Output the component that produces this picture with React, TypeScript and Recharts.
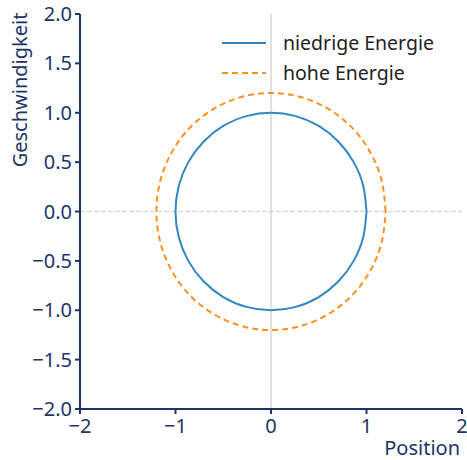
import React from 'react';
import {
    LineChart,
    Line,
    XAxis,
    YAxis,
    ReferenceLine,
} from 'recharts';

// Phasenraum: Punkte alle 15 Grad, erster Punkt am Ende wiederholt
const lowX = [1, 0.966, 0.866, 0.707, 0.5, 0.259, 0, -0.259, -0.5, -0.707, -0.866, -0.966, -1, -0.966, -0.866, -0.707, -0.5, -0.259, 0, 0.259, 0.5, 0.707, 0.866, 0.966, 1];
const lowV = [0, 0.259, 0.5, 0.707, 0.866, 0.966, 1, 0.966, 0.866, 0.707, 0.5, 0.259, 0, -0.259, -0.5, -0.707, -0.866, -0.966, -1, -0.966, -0.866, -0.707, -0.5, -0.259, 0];
const highX = [1.2, 1.159, 1.039, 0.849, 0.6, 0.311, 0, -0.311, -0.6, -0.849, -1.039, -1.159, -1.2, -1.159, -1.039, -0.849, -0.6, -0.311, 0, 0.311, 0.6, 0.849, 1.039, 1.159, 1.2];
const highV = [0, 0.311, 0.6, 0.849, 1.039, 1.159, 1.2, 1.159, 1.039, 0.849, 0.6, 0.311, 0, -0.311, -0.6, -0.849, -1.039, -1.159, -1.2, -1.159, -1.039, -0.849, -0.6, -0.311, 0];

const xTicks = [-2, -1, 0, 1, 2];
const yTicks = [-2, -1.5, -1, -0.5, 0, 0.5, 1, 1.5, 2];

const NAVY = '#1b3566';
const BLUE = '#3386c4';
const ORANGE = '#ff8f1f';
const FONT = '"Noto Sans", "Open Sans", sans-serif';

const lowData = lowX.map((x, i) => ({ x, v: lowV[i] }));
const highData = highX.map((x, i) => ({ x, v: highV[i] }));

const fmtMinus = (s: string) => s.replace('-', '\u2212');

const legendItems = [
    { label: 'niedrige Energie', color: BLUE, dash: undefined as string | undefined },
    { label: 'hohe Energie', color: ORANGE, dash: '6 4' },
];

function LegendBox() {
    return (
        <div
            style={{
                position: 'absolute',
                left: 222,
                top: 28,
                fontFamily: FONT,
                fontSize: 19.5,
                color: '#222',
                lineHeight: '30px',
            }}
        >
            {legendItems.map((it) => (
                <div key={it.label} style={{ display: 'flex', alignItems: 'center', height: 30 }}>
                    <svg width={44} height={10} style={{ marginRight: 17 }}>
                        <line x1={0} y1={5} x2={44} y2={5} stroke={it.color} strokeWidth={2} strokeDasharray={it.dash} />
                    </svg>
                    <span>{it.label}</span>
                </div>
            ))}
        </div>
    );
}

export default function App() {
    return (
        <div style={{ position: 'absolute', left: 0, top: 0, width: 467, height: 460, background: 'white' }}>
            <LineChart width={467} height={460} margin={{ top: 14, right: 5, left: 0, bottom: 0 }}>
                <XAxis
                    type="number"
                    dataKey="x"
                    domain={[-2, 2]}
                    ticks={xTicks}
                    allowDataOverflow
                    height={51}
                    stroke={NAVY}
                    strokeWidth={2}
                    tickSize={5}
                    tickMargin={5}
                    tick={{ fill: NAVY, fontSize: 20, fontFamily: FONT }}
                    tickFormatter={(v) => fmtMinus(String(v))}
                    label={{
                        content: () => (
                            <text x={460} y={455} textAnchor="end" fill={NAVY} fontSize={20} fontFamily={FONT}>
                                Position
                            </text>
                        ),
                    }}
                />
                <YAxis
                    type="number"
                    dataKey="v"
                    domain={[-2, 2]}
                    ticks={yTicks}
                    allowDataOverflow
                    width={80}
                    stroke={NAVY}
                    strokeWidth={2}
                    tickSize={5}
                    tickMargin={3}
                    tick={{ fill: NAVY, fontSize: 20, fontFamily: FONT }}
                    tickFormatter={(v) => fmtMinus(Number(v).toFixed(1))}
                    label={{
                        content: () => (
                            <text
                                x={0}
                                y={0}
                                transform="translate(27, 90) rotate(-90)"
                                textAnchor="middle"
                                fill={NAVY}
                                fontSize={20}
                                fontFamily={FONT}
                            >
                                Geschwindigkeit
                            </text>
                        ),
                    }}
                />
                <ReferenceLine y={0} stroke="#d9d9d9" strokeWidth={1.5} strokeDasharray="5 2" />
                <ReferenceLine x={0} stroke="#c4c4c4" strokeWidth={1} />
                <Line
                    data={lowData}
                    dataKey="v"
                    name="niedrige Energie"
                    type="natural"
                    stroke={BLUE}
                    strokeWidth={2}
                    dot={false}
                    activeDot={false}
                    isAnimationActive={false}
                />
                <Line
                    data={highData}
                    dataKey="v"
                    name="hohe Energie"
                    type="natural"
                    stroke={ORANGE}
                    strokeWidth={2}
                    strokeDasharray="6 4"
                    dot={false}
                    activeDot={false}
                    isAnimationActive={false}
                />
            </LineChart>
            <LegendBox />
        </div>
    );
}
